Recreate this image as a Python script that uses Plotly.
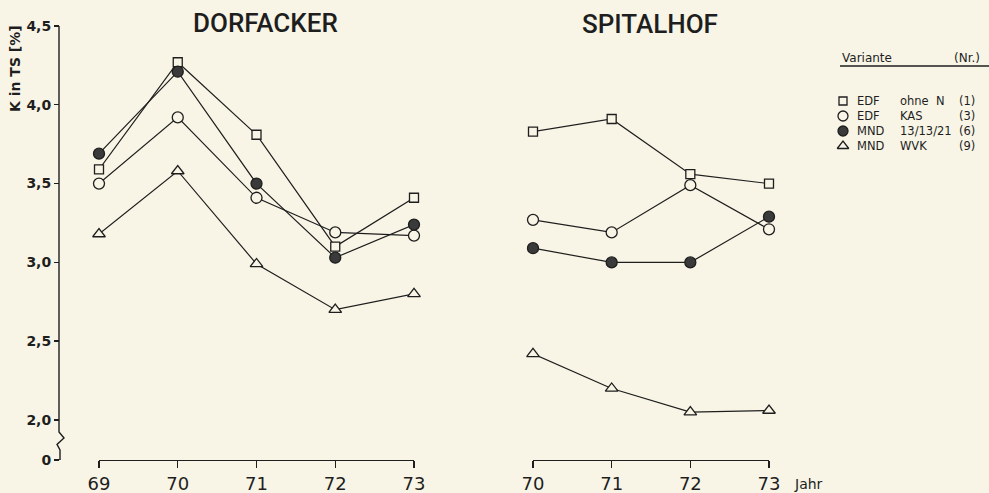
import plotly.graph_objects as go

# ---------------- data ----------------
years_dorf = [69, 70, 71, 72, 73]
years_spit = [70, 71, 72, 73]

series_names = ["EDF ohne N", "EDF KAS", "MND 13/13/21", "MND WVK"]
series_nr = ["(1)", "(3)", "(6)", "(9)"]

dorf_edf_ohne_n = [3.59, 4.27, 3.81, 3.10, 3.41]
dorf_edf_kas = [3.50, 3.92, 3.41, 3.19, 3.17]
dorf_mnd_131321 = [3.69, 4.21, 3.50, 3.03, 3.24]
dorf_mnd_wvk = [3.18, 3.58, 2.99, 2.70, 2.80]

spit_edf_ohne_n = [3.83, 3.91, 3.56, 3.50]
spit_edf_kas = [3.27, 3.19, 3.49, 3.21]
spit_mnd_131321 = [3.09, 3.00, 3.00, 3.29]
spit_mnd_wvk = [2.42, 2.20, 2.05, 2.06]

y_tickvals = [1.746, 2.0, 2.5, 3.0, 3.5, 4.0, 4.5]
y_ticktext = ["0", "2,0", "2,5", "3,0", "3,5", "4,0", "4,5"]
x_ticks_dorf = ["69", "70", "71", "72", "73"]
x_ticks_spit = ["70", "71", "72", "73"]

# ---------------- style ----------------
W, H = 989, 493
BG = "#f8f5e6"
INK = "#1e1e1e"
FONT = "DejaVu Sans"
TITLE_FONT = "Roboto"

def px_x(p):
    return p / W

def px_y(p):
    return 1 - p / H

marker_styles = [
    dict(symbol="square", size=9, color=BG, line=dict(color=INK, width=1.3)),
    dict(symbol="circle", size=11, color=BG, line=dict(color=INK, width=1.3)),
    dict(symbol="circle", size=11, color="#3a3a3a", line=dict(color=INK, width=1.3)),
    dict(symbol="triangle-up", size=11, color=BG, line=dict(color=INK, width=1.3)),
]

fig = go.Figure()

dorf_series = [dorf_edf_ohne_n, dorf_edf_kas, dorf_mnd_131321, dorf_mnd_wvk]
spit_series = [spit_edf_ohne_n, spit_edf_kas, spit_mnd_131321, spit_mnd_wvk]

for name, vals, ms in zip(series_names, dorf_series, marker_styles):
    fig.add_trace(go.Scatter(
        x=years_dorf, y=vals, mode="lines+markers", name=name,
        line=dict(color=INK, width=1.2), marker=ms,
        xaxis="x", yaxis="y", showlegend=False, cliponaxis=False))

for name, vals, ms in zip(series_names, spit_series, marker_styles):
    fig.add_trace(go.Scatter(
        x=years_spit, y=vals, mode="lines+markers", name=name,
        line=dict(color=INK, width=1.2), marker=ms,
        xaxis="x2", yaxis="y", showlegend=False, cliponaxis=False))

# legend markers on a hidden helper axis
rows = list(range(len(series_names)))
for r, ms in zip(rows, marker_styles):
    m = dict(ms)
    m["size"] = ms["size"] - 1
    fig.add_trace(go.Scatter(
        x=[0], y=[r], mode="markers", marker=m, xaxis="x3", yaxis="y3",
        showlegend=False, hoverinfo="skip", cliponaxis=False))

y_bottom = px_y(460)
y_top = px_y(26)

fig.update_layout(
    width=W, height=H,
    margin=dict(l=0, r=0, t=0, b=0, autoexpand=False),
    paper_bgcolor=BG, plot_bgcolor=BG,
    font=dict(family=FONT, color=INK),
    showlegend=False,
    xaxis=dict(
        domain=[px_x(99), px_x(414)], range=[69, 73], anchor="y",
        tickvals=years_dorf, ticktext=x_ticks_dorf, automargin=False,
        showline=True, linecolor=INK, linewidth=1.4,
        ticks="outside", ticklen=7, tickwidth=1.4, tickcolor=INK,
        showgrid=False, zeroline=False, tickfont=dict(size=18, family=FONT),
    ),
    xaxis2=dict(
        domain=[px_x(533), px_x(769)], range=[70, 73], anchor="y",
        tickvals=years_spit, ticktext=x_ticks_spit, automargin=False,
        showline=True, linecolor=INK, linewidth=1.4,
        ticks="outside", ticklen=7, tickwidth=1.4, tickcolor=INK,
        showgrid=False, zeroline=False, tickfont=dict(size=18, family=FONT),
    ),
    yaxis=dict(
        domain=[y_bottom, y_top], range=[1.746, 4.5],
        anchor="free", position=px_x(59), automargin=False,
        tickvals=y_tickvals, ticktext=y_ticktext,
        showline=False, ticks="outside", ticklen=5, tickwidth=1.4, tickcolor=INK,
        showgrid=False, zeroline=False,
        tickfont=dict(size=14, family="DejaVu Sans", weight="bold"),
    ),
    xaxis3=dict(domain=[px_x(840), 1.0], range=[-3, 146], visible=False,
                fixedrange=True, automargin=False),
    yaxis3=dict(domain=[px_y(153.5), px_y(93.5)], range=[3.5, -0.5],
                visible=False, anchor="x3", fixedrange=True, automargin=False),
)

# y axis line with break
pos = px_x(59)
fig.add_shape(type="line", xref="paper", yref="y", x0=pos, x1=pos, y0=2.0, y1=4.5,
              line=dict(color=INK, width=1.4))
fig.add_shape(type="path", xref="paper", yref="y", xsizemode="pixel", xanchor=pos,
              path="M 0,2.0 L 0,1.924 L 5,1.886 L -2,1.845 L 1,1.81 L 1,1.746 L -4,1.746",
              line=dict(color=INK, width=1.4))

annotations = [
    dict(text="DORFACKER", x=px_x(265), y=px_y(23), xref="paper", yref="paper",
         showarrow=False, font=dict(size=26, family=TITLE_FONT, color=INK, weight=500),
         xanchor="center", yanchor="middle"),
    dict(text="SPITALHOF", x=px_x(650), y=px_y(24), xref="paper", yref="paper",
         showarrow=False, font=dict(size=26, family=TITLE_FONT, color=INK, weight=500),
         xanchor="center", yanchor="middle"),
    dict(text="K in TS [%]", x=px_x(15), y=px_y(69), xref="paper", yref="paper", textangle=-90,
         showarrow=False, font=dict(size=14, family=FONT, color=INK, weight="bold"),
         xanchor="center", yanchor="middle"),
    dict(text="Jahr", x=px_x(792), y=px_y(484), xref="paper", yref="paper",
         showarrow=False, font=dict(size=14, family=FONT, color=INK), xanchor="left", yanchor="middle"),
    dict(text="Variante", x=px_x(840), y=px_y(58), xref="paper", yref="paper",
         showarrow=False, font=dict(size=12, family=FONT, color=INK), xanchor="left", yanchor="middle"),
    dict(text="(Nr.)", x=px_x(952), y=px_y(58), xref="paper", yref="paper",
         showarrow=False, font=dict(size=12, family=FONT, color=INK), xanchor="left", yanchor="middle"),
]

first_words = [n.split(" ", 1)[0] for n in series_names]
rest_words = [n.split(" ", 1)[1] for n in series_names]
for r in rows:
    annotations.append(dict(text=first_words[r], x=12, y=r, xref="x3", yref="y3", showarrow=False,
                            font=dict(size=11.5, family=FONT, color=INK), xanchor="left", yanchor="middle"))
    annotations.append(dict(text=rest_words[r].replace(" ", "&nbsp;&nbsp;"), x=55, y=r, xref="x3", yref="y3",
                            showarrow=False, font=dict(size=11.5, family=FONT, color=INK),
                            xanchor="left", yanchor="middle"))
    annotations.append(dict(text=series_nr[r], x=114, y=r, xref="x3", yref="y3", showarrow=False,
                            font=dict(size=11.5, family=FONT, color=INK), xanchor="left", yanchor="middle"))

fig.update_layout(annotations=annotations)

# legend header underline
fig.add_shape(type="line", xref="paper", yref="paper", x0=px_x(840), x1=1.0,
              y0=px_y(66), y1=px_y(66), line=dict(color=INK, width=1.4))

fig.write_html(
    "out.html",
    config={"displayModeBar": False, "staticPlot": True},
    post_script="document.body.style.margin='0';document.body.style.overflow='hidden';",
)
